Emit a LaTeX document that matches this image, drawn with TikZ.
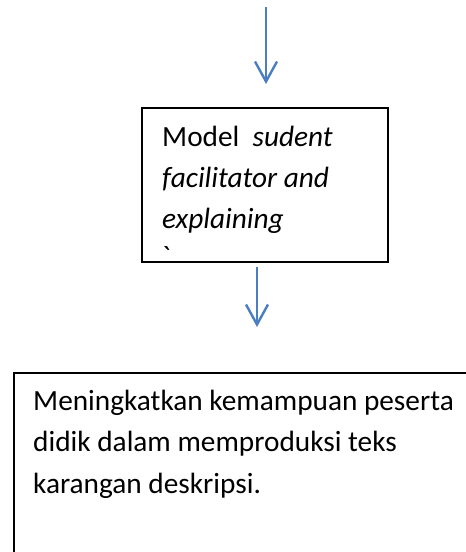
\documentclass[tikz,border=0pt]{standalone}
\usepackage{fontspec}
\setmainfont{Carlito}
\newfontfamily\gravefont{Carlito}
\usetikzlibrary{arrows.meta}
\definecolor{arrowblue}{RGB}{74,126,193}
\tikzset{
  box/.style={draw=black, line width=1.5pt, fill=white, inner sep=0pt, anchor=north west},
  txt/.style={anchor=base west, inner sep=0pt, font=\fontsize{29.3}{41}\selectfont},
  flow/.style={draw=arrowblue, line width=2.4pt, -{Straight Barb[length=20pt,width=22pt,line width=2.4pt]}}
}
\begin{document}
\begin{tikzpicture}[x=1pt,y=-1pt]
\useasboundingbox (0,0) rectangle (466,552);
\clip (0,0) rectangle (466,552);
\coordinate (a1s) at (266,7);
\coordinate (a1e) at (266,84);
\draw[flow] (a1s) -- (a1e);
\node[box, minimum width=246pt, minimum height=154pt] (mid) at (141,107) {};
\node[txt] (m1) at (162,146) {Model\ \ \textit{sudent}};
\node[txt] (m2) at (162,187) {\textit{facilitator and}};
\node[txt] (m3) at (162,228) {\textit{explaining}};
\node[txt] (m4) at (162,266) {\gravefont\char"60};
\coordinate (a2s) at (257,267);
\coordinate (a2e) at (257,327);
\draw[flow] (a2s) -- (a2e);
\node[box, minimum width=480pt, minimum height=220pt] (res) at (13,372) {};
\node[txt] (r1) at (33,410) {Meningkatkan kemampuan peserta};
\node[txt] (r2) at (33,451) {didik dalam memproduksi teks};
\node[txt] (r3) at (33,493) {karangan deskripsi.};
\end{tikzpicture}
\end{document}
